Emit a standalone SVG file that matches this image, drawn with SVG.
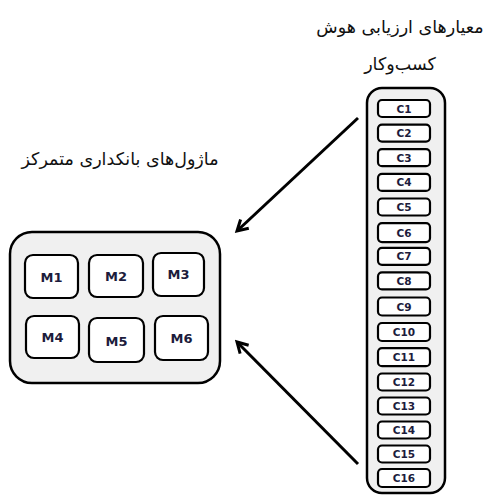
<svg xmlns="http://www.w3.org/2000/svg" width="488" height="495" viewBox="0 0 488 495">
<style>
.title{font-family:"DejaVu Sans","Noto Sans",sans-serif;font-size:17.5px;fill:#111;text-anchor:middle}
.outer{fill:#f0f0f0;stroke:#000;stroke-width:2.5}
.inner{fill:#fff;stroke:#000;stroke-width:2.2}
.m{font-family:"DejaVu Sans","Liberation Sans",sans-serif;font-weight:bold;font-size:13px;fill:#1c1c3c;text-anchor:middle}
.c{font-family:"DejaVu Sans","Liberation Sans",sans-serif;font-weight:bold;font-size:10.5px;fill:#1c1c3c;text-anchor:middle}
.conn{stroke:#000;stroke-width:3;fill:none;marker-end:url(#ah)}
</style>
<defs>
<marker id="ah" viewBox="0 0 10 10" refX="8" refY="5" markerWidth="5" markerHeight="5" orient="auto" markerUnits="strokeWidth">
<path d="M1,1 L8,5 L1,9" fill="none" stroke="#000" stroke-width="2"/>
</marker>
</defs>
<text class="title" x="400" y="33" direction="rtl">معیارهای ارزیابی هوش</text>
<text class="title" x="400" y="70" direction="rtl">کسب‌وکار</text>
<text class="title" x="120" y="165" direction="rtl">ماژول‌های بانکداری متمرکز</text>
<g id="modules">
<rect class="outer" x="10" y="232" width="210" height="151" rx="22"/>
<g id="M1"><rect class="inner" x="25" y="255" width="53" height="43" rx="8"/><text class="m" x="51.5" y="281.5">M1</text></g>
<g id="M2"><rect class="inner" x="89" y="255" width="54" height="42" rx="8"/><text class="m" x="116" y="280.5">M2</text></g>
<g id="M3"><rect class="inner" x="153" y="253" width="51" height="43" rx="8"/><text class="m" x="178.5" y="278.5">M3</text></g>
<g id="M4"><rect class="inner" x="26" y="316" width="53" height="42" rx="8"/><text class="m" x="52.5" y="341.5">M4</text></g>
<g id="M5"><rect class="inner" x="89" y="318" width="55" height="44" rx="8"/><text class="m" x="116.5" y="345.5">M5</text></g>
<g id="M6"><rect class="inner" x="155" y="316" width="53" height="44" rx="8"/><text class="m" x="181.5" y="342.5">M6</text></g>
</g>
<g id="criteria">
<rect class="outer" x="367" y="88" width="78" height="405" rx="15"/>
<g id="C1"><rect class="inner" x="378" y="100" width="52" height="17" rx="4"/><text class="c" x="404" y="112.5">C1</text></g>
<g id="C2"><rect class="inner" x="378" y="124.6" width="52" height="17" rx="4"/><text class="c" x="404" y="137.1">C2</text></g>
<g id="C3"><rect class="inner" x="378" y="149.2" width="52" height="17" rx="4"/><text class="c" x="404" y="161.7">C3</text></g>
<g id="C4"><rect class="inner" x="378" y="173.9" width="52" height="17" rx="4"/><text class="c" x="404" y="186.4">C4</text></g>
<g id="C5"><rect class="inner" x="378" y="198.5" width="52" height="17" rx="4"/><text class="c" x="404" y="211">C5</text></g>
<g id="C6"><rect class="inner" x="378" y="223.1" width="52" height="19" rx="4"/><text class="c" x="404" y="236.6">C6</text></g>
<g id="C7"><rect class="inner" x="378" y="247.8" width="52" height="17" rx="4"/><text class="c" x="404" y="260.3">C7</text></g>
<g id="C8"><rect class="inner" x="378" y="272.4" width="52" height="17" rx="4"/><text class="c" x="404" y="284.9">C8</text></g>
<g id="C9"><rect class="inner" x="378" y="297.5" width="52" height="18" rx="4"/><text class="c" x="404" y="310.5">C9</text></g>
<g id="C10"><rect class="inner" x="378" y="323" width="52" height="18" rx="4"/><text class="c" x="404" y="336">C10</text></g>
<g id="C11"><rect class="inner" x="378" y="348.2" width="52" height="18" rx="4"/><text class="c" x="404" y="361.2">C11</text></g>
<g id="C12"><rect class="inner" x="378" y="373.5" width="52" height="17" rx="4"/><text class="c" x="404" y="386">C12</text></g>
<g id="C13"><rect class="inner" x="378" y="397.5" width="52" height="17" rx="4"/><text class="c" x="404" y="410">C13</text></g>
<g id="C14"><rect class="inner" x="378" y="421.5" width="52" height="17" rx="4"/><text class="c" x="404" y="434">C14</text></g>
<g id="C15"><rect class="inner" x="378" y="445.5" width="52" height="17" rx="4"/><text class="c" x="404" y="458">C15</text></g>
<g id="C16"><rect class="inner" x="378" y="469" width="52" height="18" rx="4"/><text class="c" x="404" y="482">C16</text></g>
</g>
<g id="connectors">
<line class="conn" x1="358" y1="118" x2="237" y2="231"/>
<line class="conn" x1="358" y1="464" x2="237" y2="342"/>
</g>
</svg>
